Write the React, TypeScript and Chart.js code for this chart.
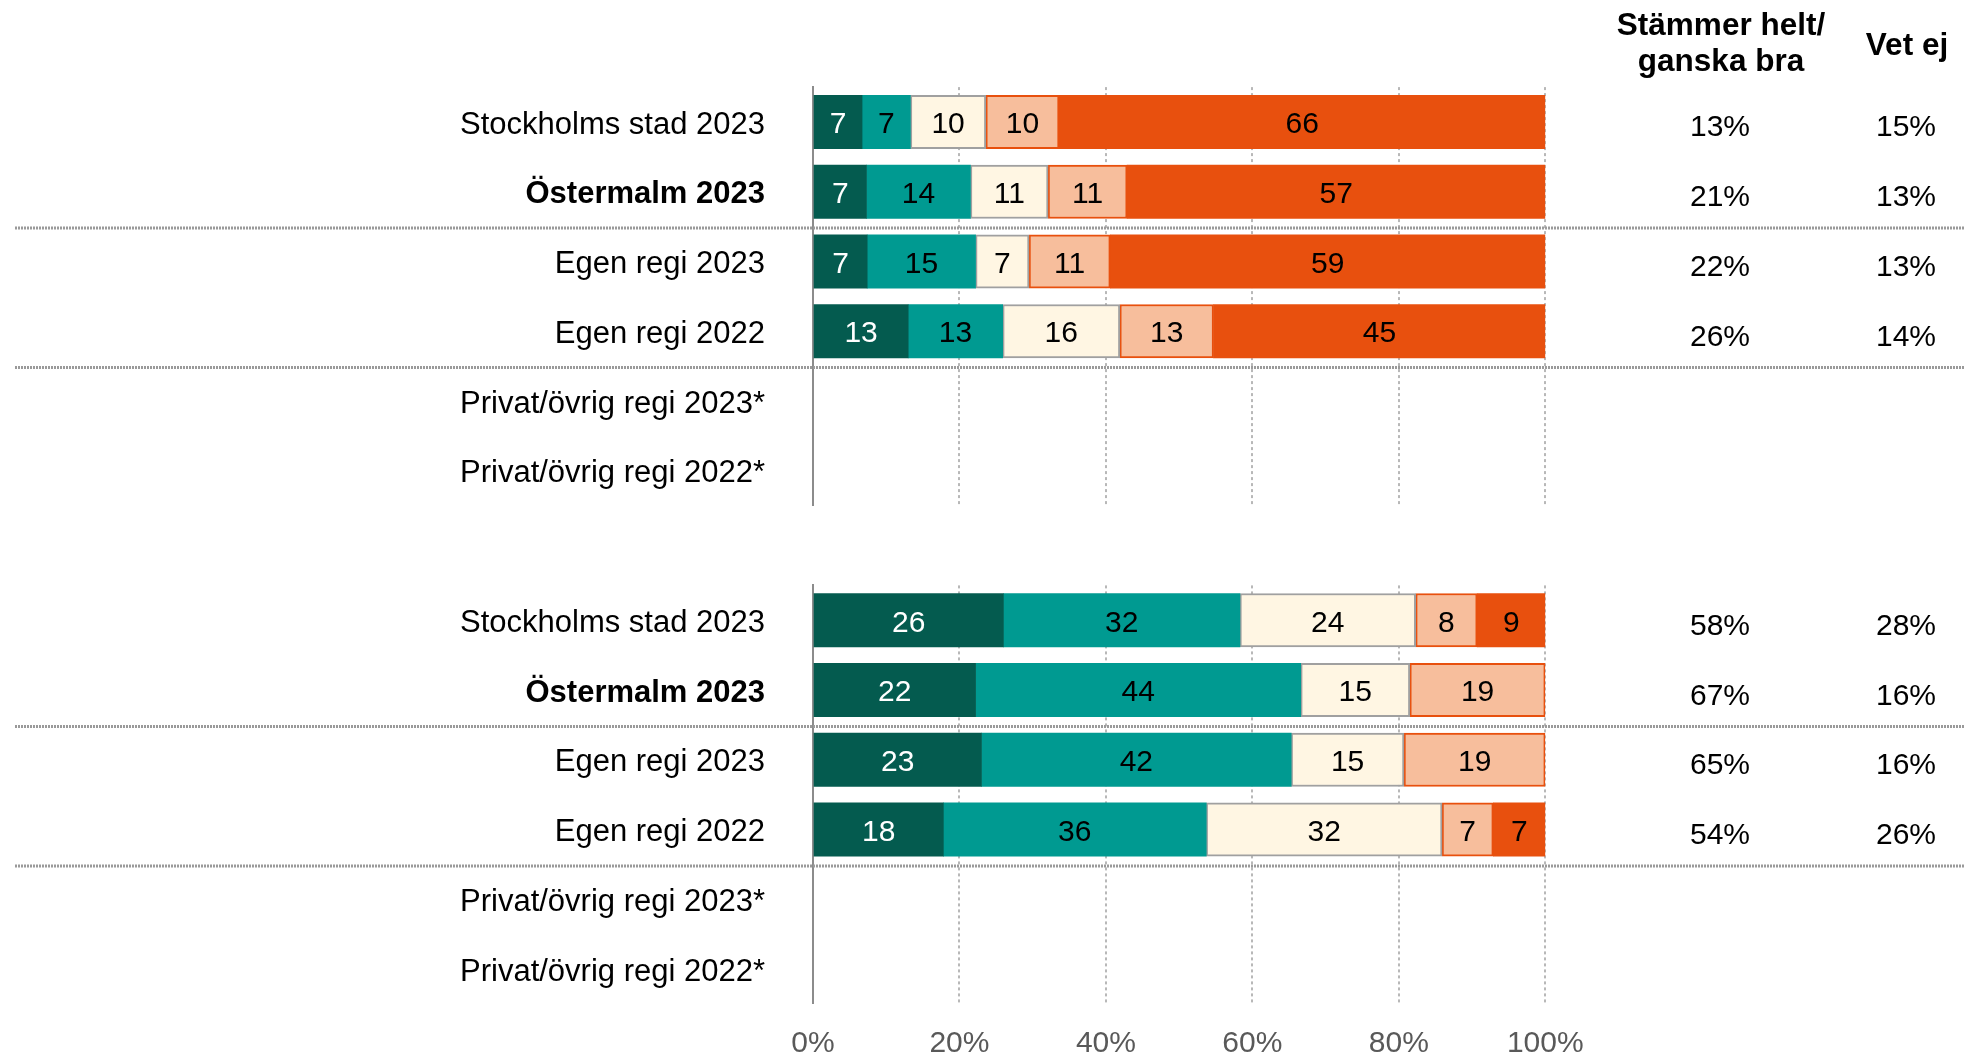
import React, { useEffect, useRef } from 'react';
import { Chart, registerables } from 'chart.js';

Chart.register(...registerables);

const FONT = '"Liberation Sans", Arial, Helvetica, sans-serif';

// ---- data ----
const categories = [
  'Stockholms stad 2023',
  'Östermalm 2023',
  'Egen regi 2023',
  'Egen regi 2022',
  'Privat/övrig regi 2023*',
  'Privat/övrig regi 2022*',
];
const boldCategoryIndex = 1;

const seriesNames = ['Stämmer helt', 'Stämmer ganska bra', 'Varken eller', 'Stämmer ganska dåligt', 'Stämmer inte alls'];

// upper panel
const upperHelt = [6.7, 7.3, 7.4, 13.0, null, null];
const upperGanskaBra = [6.6, 14.2, 14.8, 12.9, null, null];
const upperVarken = [10.3, 10.6, 7.3, 16.0, null, null];
const upperGanskaDaligt = [10.0, 10.8, 11.1, 12.8, null, null];
const upperInteAlls = [66.4, 57.1, 59.4, 45.3, null, null];
const upperAgree = ['13%', '21%', '22%', '26%', '', ''];
const upperDontKnow = ['15%', '13%', '13%', '14%', '', ''];

// lower panel
const lowerHelt = [26.0, 22.2, 23.0, 17.8, null, null];
const lowerGanskaBra = [32.3, 44.4, 42.3, 35.9, null, null];
const lowerVarken = [24.0, 14.9, 15.4, 32.2, null, null];
const lowerGanskaDaligt = [8.4, 18.5, 19.3, 7.0, null, null];
const lowerInteAlls = [9.3, null, null, 7.1, null, null];
const lowerAgree = ['58%', '67%', '65%', '54%', '', ''];
const lowerDontKnow = ['28%', '16%', '16%', '26%', '', ''];

const headerAgree = ['Stämmer helt/', 'ganska bra'];
const headerDontKnow = 'Vet ej';
const separatorsAfter = [1, 3];

// ---- styles ----
const seriesStyles = [
  { bg: '#045B4F', border: '#045B4F', bw: 0, text: '#FFFFFF' },
  { bg: '#009A91', border: '#009A91', bw: 0, text: '#000000' },
  { bg: '#FFF6E3', border: '#A0A0A0', bw: 2, text: '#000000' },
  { bg: '#F7BE9C', border: '#E8500E', bw: 2, text: '#000000' },
  { bg: '#E8500E', border: '#E8500E', bw: 0, text: '#000000' },
];

const AGREE_X = 1720;
const DONTKNOW_X = 1906;

function makeOverlay(agree: string[], dontKnow: string[], showHeader: boolean) {
  return {
    id: 'overlay',
    afterDatasetsDraw(chart: any) {
      const ctx = chart.ctx;
      ctx.save();
      ctx.textAlign = 'center';
      ctx.textBaseline = 'middle';
      ctx.font = `30px ${FONT}`;
      chart.data.datasets.forEach((ds: any, di: number) => {
        const meta = chart.getDatasetMeta(di);
        meta.data.forEach((el: any, i: number) => {
          const v = ds.data[i];
          if (v == null || Math.round(v) === 0) return;
          const p = el.getProps(['x', 'y', 'base'], true);
          ctx.fillStyle = seriesStyles[di].text;
          ctx.fillText(String(Math.round(v)), (p.x + p.base) / 2, p.y + 3);
        });
      });
      ctx.restore();
    },
    afterDraw(chart: any) {
      const ctx = chart.ctx;
      const y = chart.scales.y;
      ctx.save();
      // separators
      ctx.strokeStyle = '#9A9A9A';
      ctx.lineWidth = 3;
      ctx.setLineDash([2, 1]);
      separatorsAfter.forEach((idx) => {
        const yy = (y.getPixelForValue(idx) + y.getPixelForValue(idx + 1)) / 2 + 1.5;
        ctx.beginPath();
        ctx.moveTo(15, yy);
        ctx.lineTo(1964, yy);
        ctx.stroke();
      });
      ctx.setLineDash([]);
      // right columns
      ctx.fillStyle = '#000000';
      ctx.textAlign = 'center';
      ctx.textBaseline = 'alphabetic';
      ctx.font = `30px ${FONT}`;
      categories.forEach((_, i) => {
        const cy = y.getPixelForValue(i);
        if (agree[i]) ctx.fillText(agree[i], AGREE_X, cy + 14.5);
        if (dontKnow[i]) ctx.fillText(dontKnow[i], DONTKNOW_X, cy + 14.5);
      });
      if (showHeader) {
        ctx.font = `bold 31.5px ${FONT}`;
        ctx.fillText(headerAgree[0], 1721, 35);
        ctx.fillText(headerAgree[1], 1721, 71);
        ctx.fillText(headerDontKnow, 1907, 55);
      }
      ctx.restore();
    },
  };
}

interface PanelProps {
  top: number;
  height: number;
  series: (number | null)[][];
  agree: string[];
  dontKnow: string[];
  showHeader: boolean;
  showTicks: boolean;
  padTop: number;
  padBottom: number;
  xAxisHeight: number;
}

function Panel(props: PanelProps) {
  const ref = useRef<HTMLCanvasElement>(null);
  useEffect(() => {
    if (!ref.current) return;
    const chart = new Chart(ref.current, {
      type: 'bar',
      data: {
        labels: categories,
        datasets: props.series.map((d, i) => ({
          label: seriesNames[i],
          data: d,
          backgroundColor: seriesStyles[i].bg,
          borderColor: seriesStyles[i].border,
          borderWidth: seriesStyles[i].bw,
          borderSkipped: false,
          barThickness: 53.5,
        })),
      } as any,
      options: {
        indexAxis: 'y',
        responsive: false,
        animation: false,
        devicePixelRatio: 1,
        layout: { padding: { left: 0, right: 431.7, top: props.padTop, bottom: props.padBottom } },
        plugins: { legend: { display: false }, tooltip: { enabled: false } },
        scales: {
          x: {
            stacked: true,
            min: 0,
            max: 100,
            ticks: {
              display: props.showTicks,
              stepSize: 20,
              padding: 22,
              color: '#595959',
              font: { family: FONT, size: 30 },
              maxRotation: 0,
              autoSkip: false,
              callback: (v: any) => v + '%',
            },
            grid: {
              color: (c: any) => (c.index === 0 ? 'rgba(0,0,0,0)' : '#B8B8B8'),
              lineWidth: 2,
              drawTicks: false,
            },
            border: { display: false, dash: [3, 3] },
            afterFit: (s: any) => {
              s.height = props.xAxisHeight;
              s.paddingLeft = 0;
              s.paddingRight = 0;
              s.paddingTop = 0;
              s.paddingBottom = 0;
            },
          },
          y: {
            stacked: true,
            ticks: {
              padding: 48,
              labelOffset: 3,
              color: '#000000',
              autoSkip: false,
              font: (c: any) => ({
                family: FONT,
                size: 31,
                weight: c.index === boldCategoryIndex ? 'bold' : 'normal',
              }),
            },
            grid: { display: false, drawTicks: false },
            border: { display: true, color: '#8C8C8C', width: 2 },
            afterFit: (s: any) => {
              s.width = 813;
              s.paddingTop = 0;
              s.paddingBottom = 0;
              s.paddingLeft = 0;
              s.paddingRight = 0;
            },
          },
        },
      } as any,
      plugins: [makeOverlay(props.agree, props.dontKnow, props.showHeader)],
    });
    return () => chart.destroy();
  }, []);
  return (
    <canvas
      ref={ref}
      width={1977}
      height={props.height}
      style={{ position: 'absolute', left: 0, top: props.top, display: 'block' }}
    />
  );
}

export default function App() {
  return (
    <div style={{ position: 'absolute', left: 0, top: 0, width: 1977, height: 1059, background: '#FFFFFF', overflow: 'hidden' }}>
      <Panel
        top={0}
        height={545}
        series={[upperHelt, upperGanskaBra, upperVarken, upperGanskaDaligt, upperInteAlls]}
        agree={upperAgree}
        dontKnow={upperDontKnow}
        showHeader={true}
        showTicks={false}
        padTop={87.1}
        padBottom={39.4}
        xAxisHeight={0}
      />
      <Panel
        top={545}
        height={514}
        series={[lowerHelt, lowerGanskaBra, lowerVarken, lowerGanskaDaligt, lowerInteAlls]}
        agree={lowerAgree}
        dontKnow={lowerDontKnow}
        showHeader={false}
        showTicks={true}
        padTop={40.4}
        padBottom={0}
        xAxisHeight={55.1}
      />
    </div>
  );
}
